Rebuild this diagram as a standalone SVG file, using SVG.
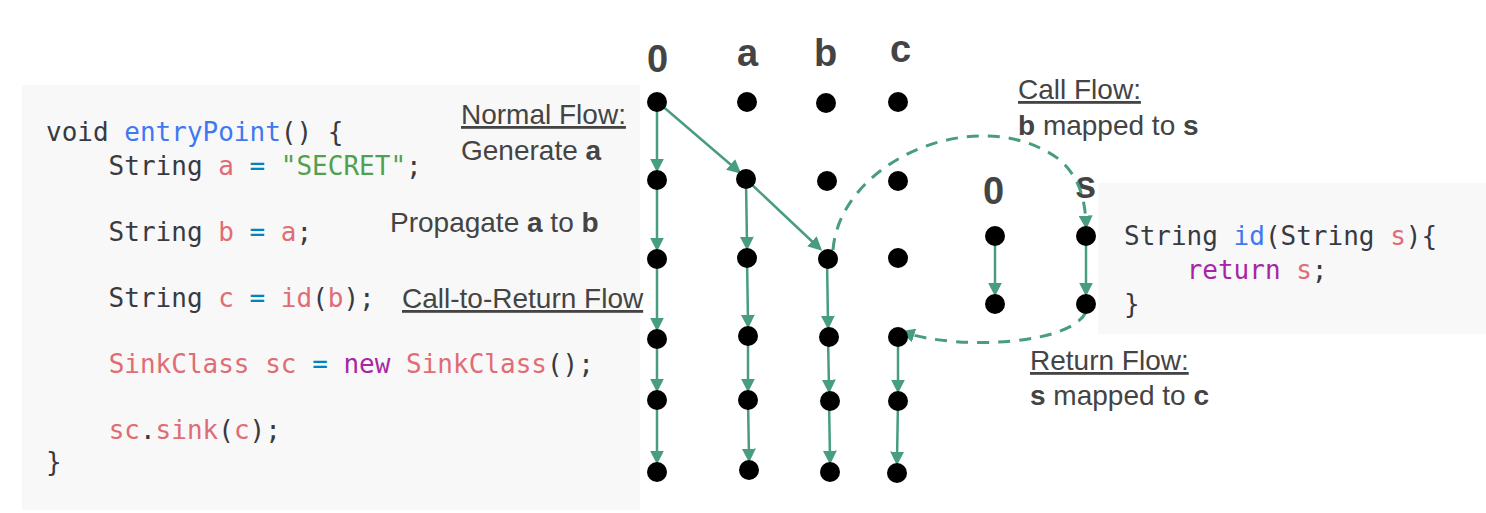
<svg xmlns="http://www.w3.org/2000/svg" width="1486" height="513" viewBox="0 0 1486 513">
<style>
.code{font-family:"DejaVu Sans Mono",monospace;font-size:26px;fill:#383a42;white-space:pre}
.f{fill:#4078f2}.v{fill:#e06c75}.s{fill:#50a14f}.p{fill:#a626a4}.o{fill:#0184bc}
.lbl{font-family:"Liberation Sans",Arial,sans-serif;font-size:28px;fill:#444}
.hd{font-family:"Liberation Sans",Arial,sans-serif;font-size:38px;font-weight:bold;fill:#444}
.e{stroke:#479d7e;stroke-width:2.5;fill:none;marker-end:url(#ar)}
.d{stroke:#479d7e;stroke-width:3;fill:none;stroke-dasharray:12 9;marker-end:url(#ar)}
circle{fill:#000}
</style>
<defs><marker id="ar" viewBox="0 0 10 10" refX="6" refY="5" markerWidth="14" markerHeight="14" markerUnits="userSpaceOnUse" orient="auto"><path d="M0,0L10,5L0,10z" fill="#479d7e"/></marker></defs>
<rect width="1486" height="513" fill="#fff"/>
<g id="code-main">
<rect x="22" y="85" width="618" height="425" fill="#f8f8f8"/>
<text class="code" x="46" y="141">void <tspan class="f">entryPoint</tspan>() {</text>
<text class="code" x="46" y="175">    String <tspan class="v">a</tspan> <tspan class="o">=</tspan> <tspan class="s">"SECRET"</tspan>;</text>
<text class="code" x="46" y="241">    String <tspan class="v">b</tspan> <tspan class="o">=</tspan> <tspan class="v">a</tspan>;</text>
<text class="code" x="46" y="307">    String <tspan class="v">c</tspan> <tspan class="o">=</tspan> <tspan class="v">id</tspan>(<tspan class="v">b</tspan>);</text>
<text class="code" x="46" y="373">    <tspan class="v">SinkClass sc</tspan> <tspan class="o">=</tspan> <tspan class="p">new</tspan> <tspan class="v">SinkClass</tspan>();</text>
<text class="code" x="46" y="439">    <tspan class="v">sc</tspan>.<tspan class="v">sink</tspan>(<tspan class="v">c</tspan>);</text>
<text class="code" x="46" y="471">}</text>
</g>
<g id="code-id">
<rect x="1098" y="183" width="388" height="151" fill="#f8f8f8"/>
<text class="code" x="1124" y="245">String <tspan class="f">id</tspan>(String <tspan class="v">s</tspan>){</text>
<text class="code" x="1124" y="279">    <tspan class="p">return</tspan> <tspan class="v">s</tspan>;</text>
<text class="code" x="1124" y="313">}</text>
</g>
<g id="labels">
<text class="lbl" x="461" y="124" text-decoration="underline">Normal Flow:</text>
<text class="lbl" x="461" y="160">Generate <tspan font-weight="bold">a</tspan></text>
<text class="lbl" x="390" y="232">Propagate <tspan font-weight="bold">a</tspan> to <tspan font-weight="bold">b</tspan></text>
<text class="lbl" x="402" y="308" font-size="24" text-decoration="underline">Call-to-Return Flow</text>
<text class="lbl" x="1018" y="99" text-decoration="underline">Call Flow:</text>
<text class="lbl" x="1018" y="135"><tspan font-weight="bold">b</tspan> mapped to <tspan font-weight="bold">s</tspan></text>
<text class="lbl" x="1030" y="370" text-decoration="underline">Return Flow:</text>
<text class="lbl" x="1030" y="405"><tspan font-weight="bold">s</tspan> mapped to <tspan font-weight="bold">c</tspan></text>
<text class="hd" x="647" y="72">0</text>
<text class="hd" x="737" y="66">a</text>
<text class="hd" x="814" y="66">b</text>
<text class="hd" x="890" y="62">c</text>
<text class="hd" x="983" y="204">0</text>
<text class="hd" x="1075" y="198">s</text>
</g>
<g id="connectors">
<path class="e" d="M657,102V167"/><path class="e" d="M657,181V246"/><path class="e" d="M657,260V326"/><path class="e" d="M657,339V387"/><path class="e" d="M657,400V459"/>
<path class="e" d="M746,180L747,245"/><path class="e" d="M747,258L748,323"/><path class="e" d="M748,336L748,387"/><path class="e" d="M748,400L749,457"/>
<path class="e" d="M827,259L828,324"/><path class="e" d="M828,337L829,388"/><path class="e" d="M829,401L830,459"/>
<path class="e" d="M898,337L898,388"/><path class="e" d="M898,401L897,460"/>
<path class="e" d="M995,236V291"/><path class="e" d="M1086,236V291"/>
<path class="e" d="M660,104L737,170"/><path class="e" d="M749,182L818,247"/>
<path class="d" d="M833,250C840,160 980,100 1060,160 C1080,178 1085,200 1086,224"/>
<path class="d" d="M1086,312C1070,345 960,350 906,333"/>
</g>
<g id="nodes">
<circle cx="657" cy="102" r="10"/><circle cx="747" cy="102" r="10"/><circle cx="826" cy="103" r="10"/><circle cx="898" cy="102" r="10"/>
<circle cx="657" cy="180" r="10"/><circle cx="746" cy="179" r="10"/><circle cx="827" cy="181" r="10"/><circle cx="898" cy="181" r="10"/>
<circle cx="657" cy="259" r="10"/><circle cx="747" cy="258" r="10"/><circle cx="828" cy="259" r="10"/><circle cx="898" cy="258" r="10"/>
<circle cx="657" cy="339" r="10"/><circle cx="748" cy="336" r="10"/><circle cx="829" cy="337" r="10"/><circle cx="898" cy="337" r="10"/>
<circle cx="657" cy="400" r="10"/><circle cx="748" cy="400" r="10"/><circle cx="830" cy="401" r="10"/><circle cx="898" cy="401" r="10"/>
<circle cx="657" cy="472" r="10"/><circle cx="749" cy="470" r="10"/><circle cx="830" cy="472" r="10"/><circle cx="897" cy="473" r="10"/>
<circle cx="995" cy="236" r="10"/><circle cx="1086" cy="236" r="10"/><circle cx="995" cy="304" r="10"/><circle cx="1086" cy="304" r="10"/>
</g>
</svg>
